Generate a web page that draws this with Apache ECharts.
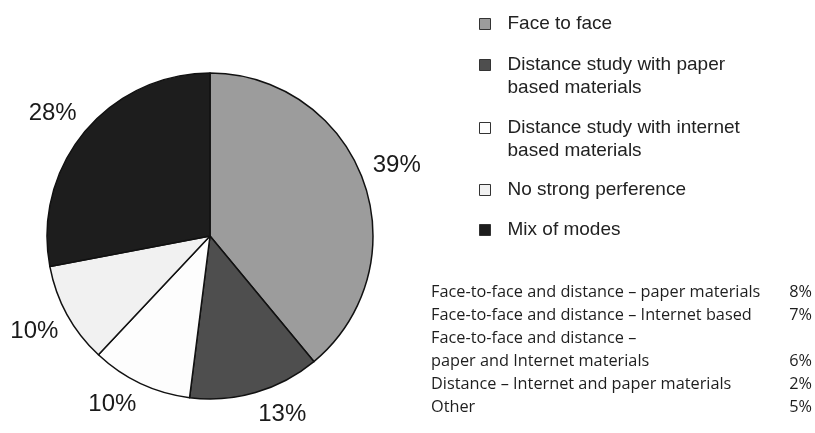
<!DOCTYPE html>
<html>
<head>
<meta charset="utf-8">
<script src="https://cdn.jsdelivr.net/npm/echarts@6/dist/echarts.min.js"></script>
<style>
html, body { margin: 0; padding: 0; background: #fff; }
#preferredMode { width: 815px; height: 433px; }
</style>
</head>
<body>
<div id="preferredMode"></div>
<script>
const modes = [
  "Face to face",
  "Distance study with paper\nbased materials",
  "Distance study with internet\nbased materials",
  "No strong perference",
  "Mix of modes"
]
const shares = [39, 13, 10, 10, 28]
const modeColors = ["#9c9c9c", "#4e4e4e", "#fdfdfd", "#f1f1f1", "#1d1d1d"]

const mixLabels = [
  "Face-to-face and distance – paper materials",
  "Face-to-face and distance – Internet based",
  "Face-to-face and distance –\npaper and Internet materials",
  "Distance – Internet and paper materials",
  "Other"
]
const mixValues = [8, 7, 6, 2, 5]

const legendTops = [12.5, 30.5, 93.5, 178.5, 218.5]
const pieCenter = [210, 236]

const chart = echarts.init(document.getElementById("preferredMode"))

function tableGraphic() {
  const items = []
  const font = '16.3px "Open Sans"'
  let line = 0
  mixLabels.forEach((label, i) => {
    label.split("\n").forEach(part => {
      items.push({
        type: "text", x: 431, y: 292.5 + line * 23, silent: true,
        style: { text: part, fill: "#1e1e1e", font: font, align: "left", verticalAlign: "middle" }
      })
      line++
    })
    items.push({
      type: "text", x: 812, y: 292.5 + (line - 1) * 23, silent: true,
      style: { text: mixValues[i] + "%", fill: "#1e1e1e", font: font, align: "right", verticalAlign: "middle" }
    })
  })
  return items
}

const option = {
  animation: false,
  backgroundColor: "#ffffff",
  // one legend per entry so the wrapped entries keep their icon on the first line
  legend: modes.map((m, i) => ({
    data: [m],
    icon: "rect",
    left: 479,
    top: legendTops[i],
    padding: 0,
    orient: "vertical",
    itemWidth: 11,
    itemHeight: 11,
    itemStyle: { borderColor: "#333", borderWidth: 1 },
    formatter: function (name) {
      return name.indexOf("\n") >= 0 ? "\n" + name : name
    },
    textStyle: {
      fontFamily: "Liberation Sans",
      fontSize: 19,
      color: "#222",
      lineHeight: 23,
      padding: [0, 0, 0, 12]
    }
  })),
  graphic: tableGraphic(),
  series: [{
    type: "pie",
    center: pieCenter,
    radius: 163,
    startAngle: 90,
    clockwise: true,
    avoidLabelOverlap: false,
    itemStyle: { borderColor: "#111", borderWidth: 1.5 },
    label: {
      position: "outside",
      formatter: "{c}%",
      fontFamily: "Liberation Sans",
      fontSize: 24,
      lineHeight: 24,
      color: "#1a1a1a",
      distanceToLabelLine: 0
    },
    labelLine: { show: false, length: 10, length2: 0 },
    labelLayout: function (p) {
      const midY = p.labelRect.y + p.labelRect.height / 2
      return { verticalAlign: midY < pieCenter[1] ? "bottom" : "top" }
    },
    emphasis: { disabled: true },
    data: modes.map((m, i) => ({ name: m, value: shares[i], itemStyle: { color: modeColors[i] } }))
  }]
}

chart.setOption(option)
</script>
</body>
</html>
